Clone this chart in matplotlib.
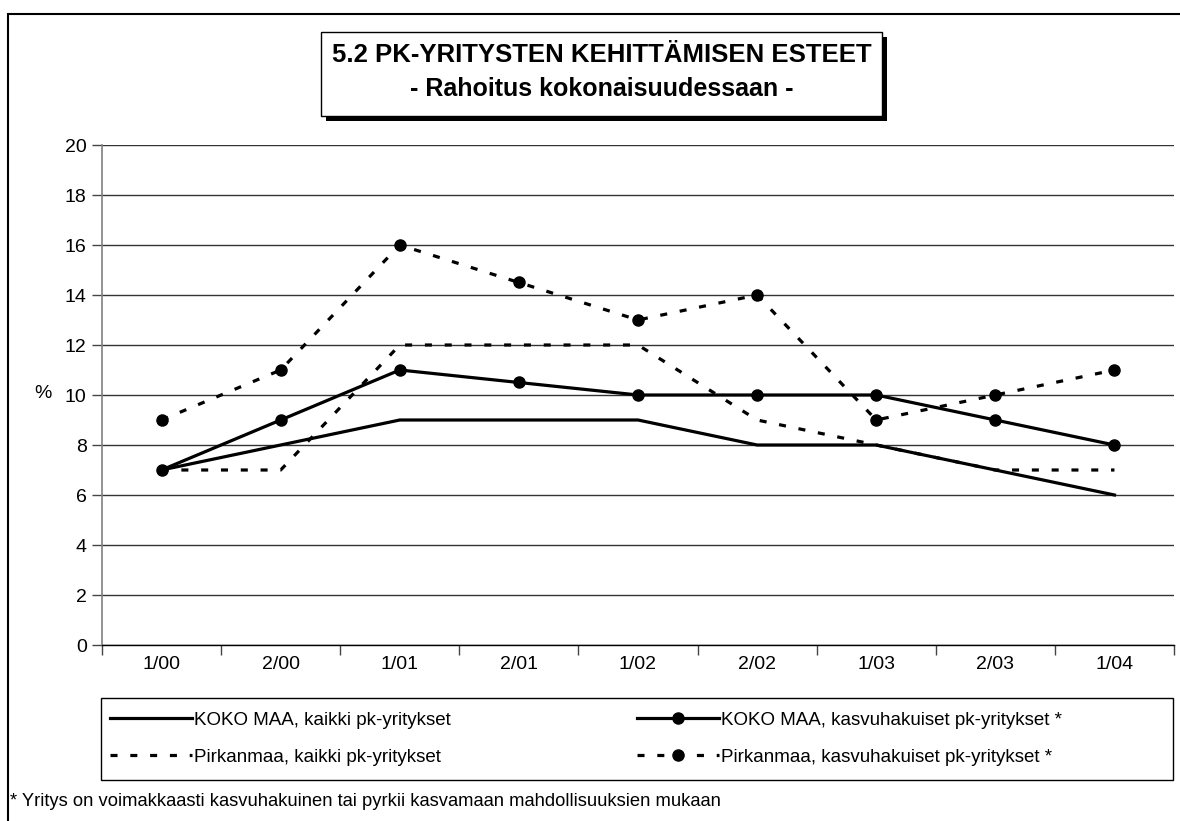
import matplotlib
matplotlib.use("Agg")
import matplotlib.pyplot as plt
from matplotlib.patches import Rectangle

plt.rcParams['font.family'] = ['Liberation Sans', 'DejaVu Sans']

categories = ["1/00", "2/00", "1/01", "2/01", "1/02", "2/02", "1/03", "2/03", "1/04"]
koko_kaikki = [7, 8, 9, 9, 9, 8, 8, 7, 6]
koko_kasvu = [7, 9, 11, 10.5, 10, 10, 10, 9, 8]
pirk_kaikki = [7, 7, 12, 12, 12, 9, 8, 7, 7]
pirk_kasvu = [9, 11, 16, 14.5, 13, 14, 9, 10, 11]
labels = ["KOKO MAA, kaikki pk-yritykset",
          "KOKO MAA, kasvuhakuiset pk-yritykset *",
          "Pirkanmaa, kaikki pk-yritykset",
          "Pirkanmaa, kasvuhakuiset pk-yritykset *"]
yticks = list(range(0, 21, 2))
title1 = "5.2 PK-YRITYSTEN KEHITTÄMISEN ESTEET"
title2 = "- Rahoitus kokonaisuudessaan -"
footnote = "* Yritys on voimakkaasti kasvuhakuinen tai pyrkii kasvamaan mahdollisuuksien mukaan"

W, H = 1180, 821
fig = plt.figure(figsize=(W / 100, H / 100), dpi=100)

def fx(px):
    return px / W

def fy(py):
    return 1 - py / H

# outer border (top and left visible)
fig.add_artist(Rectangle((fx(8), fy(900)), fx(1300), fy(14) - fy(900),
                         transform=fig.transFigure, fill=False, edgecolor='black', lw=1.5))

ax = fig.add_axes([fx(102), fy(645), fx(1174) - fx(102), fy(145) - fy(645)])
x = list(range(len(categories)))
lw = 2.3
dash = (0, (2.2, 4.0))
l1, = ax.plot(x, koko_kaikki, color='black', lw=lw, solid_joinstyle='miter')
l2, = ax.plot(x, koko_kasvu, color='black', lw=lw, marker='o', markersize=8)
l3, = ax.plot(x, pirk_kaikki, color='black', lw=lw, linestyle=dash)
l4, = ax.plot(x, pirk_kasvu, color='black', lw=lw, linestyle=dash, marker='o', markersize=8)

ax.set_xlim(-0.5, len(categories) - 0.5)
ax.set_ylim(0, 20)
ax.set_yticks(yticks)
ax.set_yticklabels([str(v) for v in yticks], fontsize=14)
ax.yaxis.grid(True, color='#333333', lw=1)
ax.set_axisbelow(True)
ax.set_xticks([i + 0.5 for i in range(-1, len(categories))], minor=False)
ax.set_xticklabels([])
ax.set_xticks(x, minor=True)
ax.set_xticklabels(categories, minor=True, fontsize=14)
ax.tick_params(axis='x', which='major', length=7, width=1, color='#444444', direction='out')
ax.tick_params(axis='x', which='minor', length=0, pad=8)
ax.tick_params(axis='y', length=7, width=1, color='#444444', pad=4)
for s in ['top', 'right']:
    ax.spines[s].set_visible(False)
ax.spines['left'].set_color('#808080')
ax.spines['left'].set_linewidth(1.2)
ax.spines['bottom'].set_color('black')
ax.spines['bottom'].set_linewidth(1)

fig.text(fx(43), fy(394), "%", fontsize=14, ha='center', va='center')

# title box with shadow
bx0, by0, bx1, by1 = 321, 32, 882, 116
fig.add_artist(Rectangle((fx(bx0 + 5), fy(by1 + 5)), fx(bx1) - fx(bx0), fy(by0) - fy(by1),
                         transform=fig.transFigure, facecolor='black', edgecolor='black', lw=0))
fig.add_artist(Rectangle((fx(bx0), fy(by1)), fx(bx1) - fx(bx0), fy(by0) - fy(by1),
                         transform=fig.transFigure, facecolor='white', edgecolor='black', lw=1))
fig.text(fx((bx0 + bx1) / 2), fy(55), title1, fontsize=18.5, fontweight='bold', ha='center', va='center')
fig.text(fx((bx0 + bx1) / 2), fy(89), title2, fontsize=18, fontweight='bold', ha='center', va='center')

# legend frame
fig.add_artist(Rectangle((fx(101), fy(780)), fx(1173) - fx(101), fy(698) - fy(780),
                         transform=fig.transFigure, fill=False, edgecolor='black', lw=1))
leg_kw = dict(loc='upper left', ncol=1, fontsize=13.5, frameon=False,
              handlelength=4.4, handletextpad=0.1, borderaxespad=0,
              borderpad=0.3, labelspacing=1.05)
leg1 = fig.legend([l1, l3], [labels[0], labels[2]],
                  bbox_to_anchor=(fx(104), fy(706)), **leg_kw)
leg2 = fig.legend([l2, l4], [labels[1], labels[3]],
                  bbox_to_anchor=(fx(631), fy(706)), **leg_kw)

fig.text(fx(10), fy(801), footnote, fontsize=13.2, ha='left', va='center')

fig.savefig("out.png", dpi=100)
